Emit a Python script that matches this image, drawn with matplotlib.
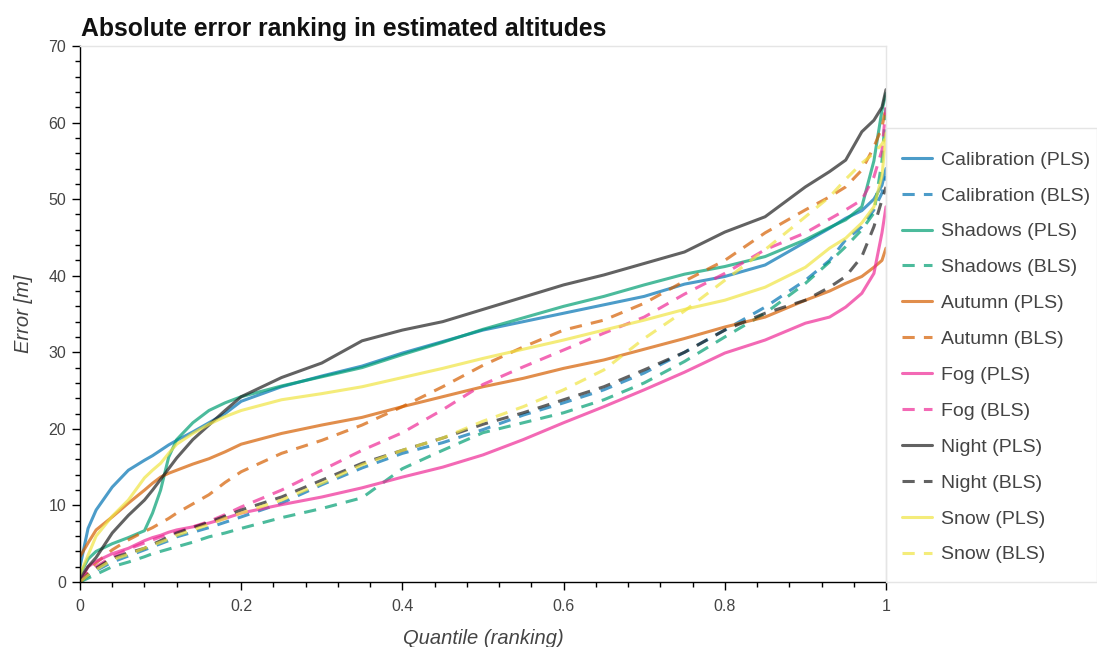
import matplotlib
matplotlib.use("Agg")
import matplotlib.pyplot as plt
from matplotlib.patches import Rectangle
from matplotlib.ticker import MultipleLocator, FixedLocator

plt.rcParams['font.family'] = ['Liberation Sans', 'DejaVu Sans']

# quantile grid shared by all series
quantile = [0, 0.01, 0.02, 0.04, 0.06, 0.08, 0.09, 0.10, 0.11, 0.12, 0.14, 0.16, 0.18, 0.20,
            0.25, 0.30, 0.35, 0.40, 0.45, 0.50, 0.55, 0.60, 0.65, 0.70, 0.75, 0.80, 0.85,
            0.90, 0.93, 0.95, 0.97, 0.985, 0.995, 1.0]

calibration_pls = [2.0, 7.0, 9.4, 12.4, 14.6, 15.9, 16.5, 17.2, 17.9, 18.5, 19.6, 20.8, 22.0, 23.6,
                   25.5, 26.9, 28.2, 29.9, 31.4, 32.9, 34.0, 35.1, 36.2, 37.3, 38.9, 39.9, 41.4,
                   44.4, 46.2, 47.5, 48.5, 50.0, 51.8, 54.0]
calibration_bls = [0.0, 0.8, 1.5, 2.6, 3.4, 4.2, 4.6, 5.0, 5.4, 5.9, 6.5, 7.1, 7.8, 8.5,
                   10.3, 12.7, 14.9, 16.8, 18.2, 19.9, 21.8, 23.4, 25.1, 27.3, 30.0, 32.9, 35.9,
                   39.4, 42.0, 44.7, 46.4, 48.6, 50.8, 53.0]
shadows_pls = [1.0, 3.0, 4.0, 5.0, 5.8, 6.7, 9.0, 12.0, 16.3, 18.6, 20.8, 22.4, 23.4, 24.2,
               25.6, 26.8, 28.0, 29.7, 31.3, 33.0, 34.5, 36.0, 37.3, 38.8, 40.2, 41.2, 42.5,
               44.7, 46.3, 47.3, 49.0, 55.0, 61.6, 63.8]
shadows_bls = [0.0, 0.5, 1.0, 2.0, 2.6, 3.3, 3.7, 4.0, 4.3, 4.6, 5.2, 5.9, 6.4, 7.0,
               8.4, 9.6, 11.0, 14.8, 17.2, 19.5, 20.8, 22.1, 23.8, 26.0, 28.8, 32.0, 35.1,
               39.0, 41.8, 43.8, 46.0, 48.2, 55.0, 62.0]
autumn_pls = [3.3, 5.1, 6.8, 8.5, 10.3, 12.0, 12.9, 13.7, 14.2, 14.6, 15.4, 16.1, 17.0, 18.0,
              19.4, 20.5, 21.5, 22.9, 24.2, 25.5, 26.6, 27.9, 29.0, 30.4, 31.8, 33.3, 34.6,
              36.8, 38.0, 39.0, 39.9, 41.1, 42.0, 43.6]
autumn_bls = [0.0, 1.5, 2.5, 4.2, 5.5, 6.6, 7.1, 7.7, 8.3, 9.0, 10.2, 11.4, 13.0, 14.4,
              16.8, 18.5, 20.5, 22.9, 25.5, 28.3, 30.7, 32.9, 34.2, 36.4, 39.3, 42.0, 45.6,
              48.6, 50.3, 51.6, 53.8, 56.8, 59.4, 62.0]
fog_pls = [0.0, 2.0, 2.7, 3.7, 4.4, 5.4, 5.8, 6.1, 6.5, 6.8, 7.2, 7.7, 8.3, 9.0,
           10.1, 11.1, 12.3, 13.7, 15.0, 16.6, 18.6, 20.8, 22.9, 25.1, 27.4, 29.9, 31.6,
           33.8, 34.6, 35.9, 37.7, 40.3, 45.6, 49.0]
fog_bls = [0.0, 1.2, 2.0, 3.3, 4.3, 5.1, 5.5, 5.9, 6.2, 6.5, 7.2, 7.9, 8.8, 9.8,
           12.0, 14.6, 17.2, 19.5, 22.5, 25.8, 28.1, 30.3, 32.5, 34.6, 37.6, 40.3, 43.4,
           45.6, 47.4, 48.6, 49.9, 52.9, 56.4, 62.0]
night_pls = [0.5, 2.0, 3.2, 6.4, 8.7, 10.7, 12.0, 13.4, 14.8, 16.2, 18.6, 20.5, 22.4, 24.2,
             26.7, 28.6, 31.5, 32.9, 34.0, 35.6, 37.2, 38.8, 40.1, 41.6, 43.1, 45.7, 47.7,
             51.6, 53.6, 55.1, 58.8, 60.3, 62.0, 64.3]
night_bls = [0.0, 1.0, 1.8, 3.1, 3.8, 4.4, 4.9, 5.4, 5.9, 6.4, 7.1, 7.8, 8.6, 9.4,
             11.1, 13.3, 15.5, 17.2, 18.8, 20.6, 22.1, 23.8, 25.5, 27.7, 30.0, 32.9, 35.1,
             36.8, 38.5, 39.9, 42.5, 46.4, 49.9, 51.6]
snow_pls = [1.0, 3.5, 6.0, 8.6, 10.7, 13.6, 14.6, 15.5, 16.8, 18.0, 19.4, 20.6, 21.6, 22.4,
            23.8, 24.6, 25.5, 26.7, 27.9, 29.2, 30.4, 31.6, 32.9, 34.2, 35.6, 36.8, 38.5,
            41.1, 43.6, 44.9, 46.9, 49.0, 53.0, 58.6]
snow_bls = [0.0, 0.9, 1.6, 2.9, 3.6, 4.4, 4.8, 5.2, 5.6, 6.1, 6.8, 7.5, 8.3, 9.0,
            10.7, 12.9, 15.3, 17.2, 18.8, 21.0, 22.9, 25.1, 27.7, 31.8, 35.4, 39.4, 43.4,
            47.7, 50.3, 52.6, 54.7, 56.0, 57.2, 58.1]

conditions = ['Calibration', 'Shadows', 'Autumn', 'Fog', 'Night', 'Snow']
colors = ['#0072B2', '#009E73', '#D55E00', '#EE2A96', '#202020', '#F0E442']
series = [
    (calibration_pls, calibration_bls),
    (shadows_pls, shadows_bls),
    (autumn_pls, autumn_bls),
    (fog_pls, fog_bls),
    (night_pls, night_bls),
    (snow_pls, snow_bls),
]

W, H = 1097, 647
fig = plt.figure(figsize=(W / 100, H / 100), dpi=100)
ax = fig.add_axes([80 / W, 1 - 582 / H, (886 - 80) / W, (582 - 46) / H])

for name, color, (pls, bls) in zip(conditions, colors, series):
    ax.plot(quantile, pls, color=color, alpha=0.7, lw=2.2, label=f'{name} (PLS)',
            solid_capstyle='round')
    ax.plot(quantile, bls, color=color, alpha=0.7, lw=2.2, ls=(0, (4, 3)),
            label=f'{name} (BLS)')

ax.set_xlim(0, 1)
ax.set_ylim(0, 70)
ax.xaxis.set_major_locator(FixedLocator([0, 0.2, 0.4, 0.6, 0.8, 1.0]))
ax.set_xticklabels(['0', '0.2', '0.4', '0.6', '0.8', '1'])
ax.xaxis.set_minor_locator(MultipleLocator(0.04))
ax.yaxis.set_major_locator(MultipleLocator(10))
ax.yaxis.set_minor_locator(MultipleLocator(2))
ax.tick_params(which='major', length=6, width=1, color='black', labelsize=11.5,
               labelcolor='#444444')
ax.tick_params(which='minor', length=3.5, width=1, color='black')
ax.tick_params(axis='x', which='major', pad=6)
ax.tick_params(axis='y', which='major', pad=4)

for side in ['left', 'bottom']:
    ax.spines[side].set_color('black')
    ax.spines[side].set_linewidth(1)
for side in ['top', 'right']:
    ax.spines[side].set_color('#e5e5e5')
    ax.spines[side].set_linewidth(1)

ax.set_xlabel('Quantile (ranking)', fontsize=14.5, style='italic', color='#444444', labelpad=11)
ax.set_ylabel('Error [m]', fontsize=14.5, style='italic', color='#444444', labelpad=11)

fig.text(81 / W, 1 - 36 / H, 'Absolute error ranking in estimated altitudes',
         fontsize=17.8, fontweight='bold', color='#111111', va='baseline', ha='left')

# legend box outside the frame
fig.patches.append(Rectangle((886 / W, 1 - 582 / H), (W - 886) / W, (582 - 128) / H,
                             transform=fig.transFigure, fill=False, edgecolor='#e5e5e5', lw=1))
handles, labels = ax.get_legend_handles_labels()
fig.legend(handles, labels, loc='upper left', bbox_to_anchor=(902 / W, 1 - 151 / H),
           frameon=False, fontsize=14, labelcolor='#444444', handlelength=1.55,
           handletextpad=0.46, labelspacing=0.94, borderpad=0, borderaxespad=0)

fig.savefig('out.png', dpi=100)
